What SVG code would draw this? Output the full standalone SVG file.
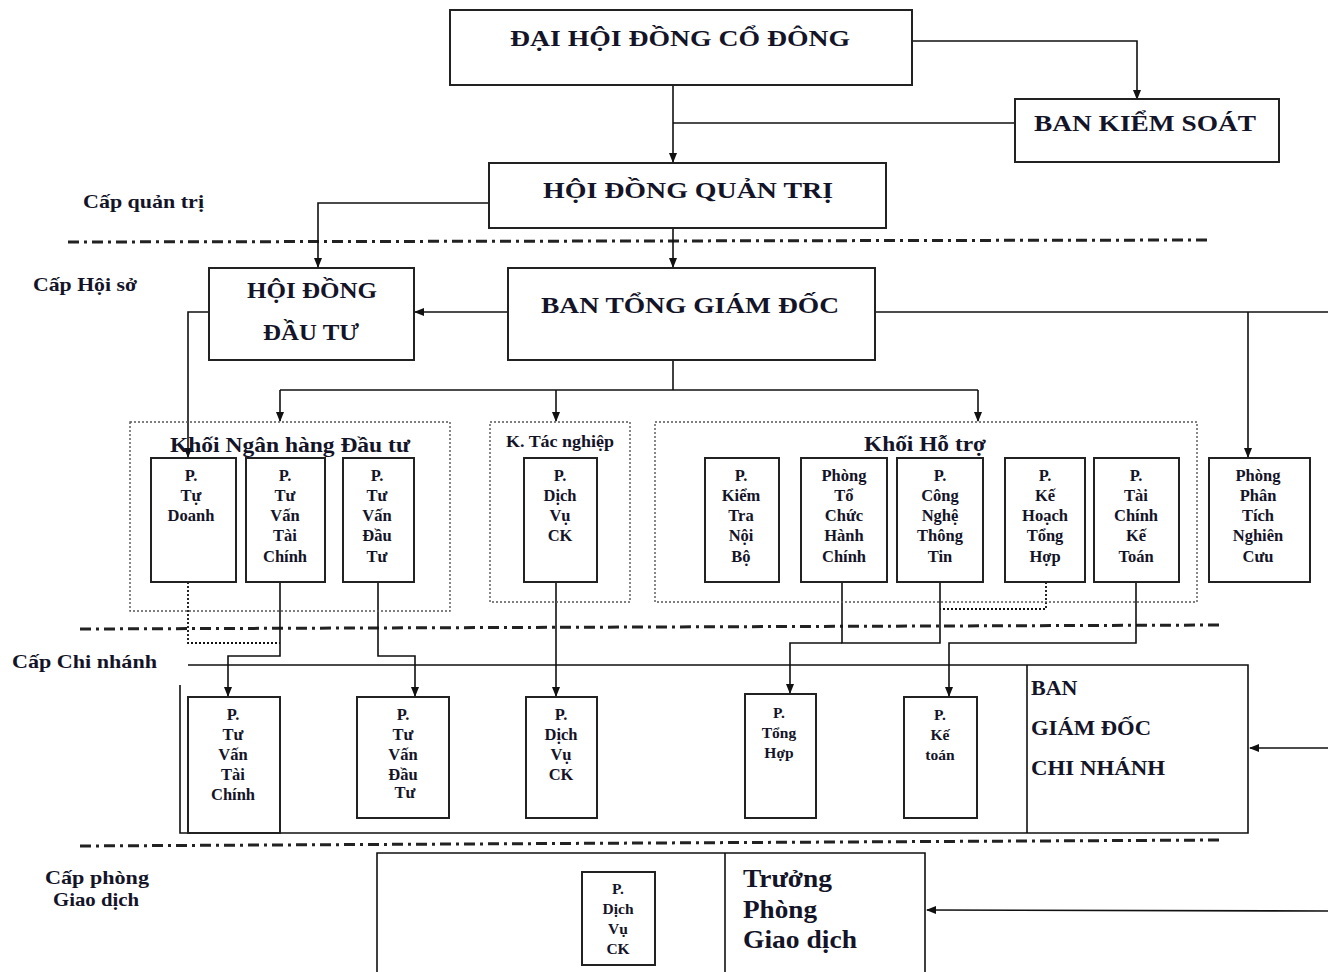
<svg xmlns="http://www.w3.org/2000/svg" width="1328" height="972" viewBox="0 0 1328 972">
<style>
.bx{fill:#fff;stroke:#222;stroke-width:2}
.dot{fill:none;stroke:#555;stroke-width:1.4;stroke-dasharray:2 2}
.ln{fill:none;stroke:#111;stroke-width:1.6}
.dl{fill:none;stroke:#111;stroke-width:1.8;stroke-dasharray:2 2}
.sep{fill:none;stroke:#222;stroke-width:3;stroke-dasharray:11 5 3 5}
text{font-family:"Liberation Serif","Times New Roman",serif;font-weight:bold;fill:#141428}
.t1{font-size:24px}
.t2{font-size:16.5px;text-anchor:middle}
.t3{font-size:15.5px;text-anchor:middle}
.lb{font-size:19px}
.c{text-anchor:middle}
</style>
<defs>
<marker id="ar" markerWidth="10" markerHeight="10" refX="9" refY="5" orient="auto" markerUnits="userSpaceOnUse">
<path d="M0,1 L10,5 L0,9 Z" fill="#111"/>
</marker>
</defs>
<rect width="1328" height="972" fill="#fff"/>

<g id="levels">
<line class="sep" x1="68" y1="242" x2="1210" y2="240"/>
<line class="sep" x1="80" y1="629" x2="1220" y2="625"/>
<line class="sep" x1="80" y1="846" x2="1220" y2="840"/>
<text class="lb" x="83" y="208" textLength="121" lengthAdjust="spacingAndGlyphs">Cấp quản trị</text>
<text class="lb" x="33" y="291" textLength="104" lengthAdjust="spacingAndGlyphs">Cấp Hội sở</text>
<text class="lb" x="12" y="668" textLength="145" lengthAdjust="spacingAndGlyphs">Cấp Chi nhánh</text>
<text class="lb c" x="97" y="884" textLength="104" lengthAdjust="spacingAndGlyphs">Cấp phòng</text>
<text class="lb c" x="96" y="906" textLength="86" lengthAdjust="spacingAndGlyphs">Giao dịch</text>
</g>

<g id="connectors">
<polyline class="ln" points="912,41 1137,41 1137,99" marker-end="url(#ar)"/>
<line class="ln" x1="673" y1="85" x2="673" y2="162" marker-end="url(#ar)"/>
<line class="ln" x1="1015" y1="123" x2="673" y2="123"/>
<polyline class="ln" points="489,203 318,203 318,267" marker-end="url(#ar)"/>
<line class="ln" x1="673" y1="228" x2="673" y2="267" marker-end="url(#ar)"/>
<line class="ln" x1="508" y1="312" x2="415" y2="312" marker-end="url(#ar)"/>
<polyline class="ln" points="209,312 188,312 188,457" marker-end="url(#ar)"/>
<line class="ln" x1="875" y1="312" x2="1328" y2="312"/>
<line class="ln" x1="1248" y1="312" x2="1248" y2="457" marker-end="url(#ar)"/>
<line class="ln" x1="673" y1="360" x2="673" y2="390"/>
<line class="ln" x1="280" y1="390" x2="978" y2="390"/>
<line class="ln" x1="280" y1="390" x2="280" y2="421" marker-end="url(#ar)"/>
<line class="ln" x1="556" y1="390" x2="556" y2="421" marker-end="url(#ar)"/>
<line class="ln" x1="978" y1="390" x2="978" y2="421" marker-end="url(#ar)"/>
<polyline class="dl" points="188,582 188,643 280,643"/>
<polyline class="ln" points="280,582 280,656 228,656 228,696" marker-end="url(#ar)"/>
<polyline class="ln" points="378,582 378,656 415,656 415,696" marker-end="url(#ar)"/>
<line class="ln" x1="556" y1="582" x2="556" y2="696" marker-end="url(#ar)"/>
<polyline class="ln" points="842,582 842,643 940,643 940,582"/>
<polyline class="ln" points="842,643 790,643 790,693" marker-end="url(#ar)"/>
<polyline class="dl" points="1046,582 1046,609 940,609"/>
<polyline class="ln" points="1136,582 1136,643 949,643 949,696" marker-end="url(#ar)"/>
<line class="ln" x1="1328" y1="748" x2="1250" y2="748" marker-end="url(#ar)"/>
<line class="ln" x1="1328" y1="911" x2="927" y2="910" marker-end="url(#ar)"/>
</g>

<g id="dhdcd"><rect class="bx" x="450" y="10" width="462" height="75"/>
<text class="t1 c" x="680" y="46" textLength="340" lengthAdjust="spacingAndGlyphs">ĐẠI HỘI ĐỒNG CỔ ĐÔNG</text></g>
<g id="bks"><rect class="bx" x="1015" y="99" width="264" height="63"/>
<text class="t1 c" x="1145" y="131" textLength="222" lengthAdjust="spacingAndGlyphs">BAN KIỂM SOÁT</text></g>
<g id="hdqt"><rect class="bx" x="489" y="163" width="397" height="65"/>
<text class="t1 c" x="688" y="198" textLength="290" lengthAdjust="spacingAndGlyphs">HỘI ĐỒNG QUẢN TRỊ</text></g>
<g id="hddt"><rect class="bx" x="209" y="268" width="205" height="92"/>
<text class="t1 c" x="312" y="298" textLength="130" lengthAdjust="spacingAndGlyphs">HỘI ĐỒNG</text>
<text class="t1 c" x="311" y="340" textLength="96" lengthAdjust="spacingAndGlyphs">ĐẦU TƯ</text></g>
<g id="btgd"><rect class="bx" x="508" y="268" width="367" height="92"/>
<text class="t1 c" x="690" y="313" textLength="298" lengthAdjust="spacingAndGlyphs">BAN TỔNG GIÁM ĐỐC</text></g>

<g id="khoi-nhdt"><rect class="dot" x="130" y="422" width="320" height="189"/>
<text class="c" x="290" y="452" font-size="22" textLength="240" lengthAdjust="spacingAndGlyphs">Khối Ngân hàng Đầu tư</text></g>
<g id="p-tu-doanh"><rect class="bx" x="151" y="458" width="85" height="124"/>
<text class="t2" x="191" y="481">P.</text><text class="t2" x="191" y="501">Tự</text><text class="t2" x="191" y="521">Doanh</text></g>
<g id="p-tvtc"><rect class="bx" x="246" y="458" width="79" height="124"/>
<text class="t2" x="285" y="481">P.</text><text class="t2" x="285" y="501">Tư</text><text class="t2" x="285" y="521">Vấn</text><text class="t2" x="285" y="541">Tài</text><text class="t2" x="285" y="562">Chính</text></g>
<g id="p-tvdt"><rect class="bx" x="343" y="458" width="71" height="124"/>
<text class="t2" x="377" y="481">P.</text><text class="t2" x="377" y="501">Tư</text><text class="t2" x="377" y="521">Vấn</text><text class="t2" x="377" y="541">Đầu</text><text class="t2" x="377" y="562">Tư</text></g>

<g id="k-tac-nghiep"><rect class="dot" x="490" y="422" width="140" height="180"/>
<text class="c" x="560" y="447" font-size="16" textLength="108" lengthAdjust="spacingAndGlyphs">K. Tác nghiệp</text></g>
<g id="p-dvck"><rect class="bx" x="524" y="458" width="73" height="124"/>
<text class="t2" x="560" y="481">P.</text><text class="t2" x="560" y="501">Dịch</text><text class="t2" x="560" y="521">Vụ</text><text class="t2" x="560" y="541">CK</text></g>

<g id="khoi-ho-tro"><rect class="dot" x="655" y="422" width="542" height="180"/>
<text class="c" x="925" y="451" font-size="22" textLength="122" lengthAdjust="spacingAndGlyphs">Khối Hỗ trợ</text></g>
<g id="p-ktnb"><rect class="bx" x="705" y="458" width="74" height="124"/>
<text class="t2" x="741" y="481">P.</text><text class="t2" x="741" y="501">Kiểm</text><text class="t2" x="741" y="521">Tra</text><text class="t2" x="741" y="541">Nội</text><text class="t2" x="741" y="562">Bộ</text></g>
<g id="p-tchc"><rect class="bx" x="801" y="458" width="86" height="124"/>
<text class="t2" x="844" y="481">Phòng</text><text class="t2" x="844" y="501">Tổ</text><text class="t2" x="844" y="521">Chức</text><text class="t2" x="844" y="541">Hành</text><text class="t2" x="844" y="562">Chính</text></g>
<g id="p-cntt"><rect class="bx" x="897" y="458" width="86" height="124"/>
<text class="t2" x="940" y="481">P.</text><text class="t2" x="940" y="501">Công</text><text class="t2" x="940" y="521">Nghệ</text><text class="t2" x="940" y="541">Thông</text><text class="t2" x="940" y="562">Tin</text></g>
<g id="p-khth"><rect class="bx" x="1005" y="458" width="80" height="124"/>
<text class="t2" x="1045" y="481">P.</text><text class="t2" x="1045" y="501">Kế</text><text class="t2" x="1045" y="521">Hoạch</text><text class="t2" x="1045" y="541">Tổng</text><text class="t2" x="1045" y="562">Hợp</text></g>
<g id="p-tckt"><rect class="bx" x="1094" y="458" width="85" height="124"/>
<text class="t2" x="1136" y="481">P.</text><text class="t2" x="1136" y="501">Tài</text><text class="t2" x="1136" y="521">Chính</text><text class="t2" x="1136" y="541">Kế</text><text class="t2" x="1136" y="562">Toán</text></g>
<g id="p-ptnc"><rect class="bx" x="1209" y="458" width="101" height="124"/>
<text class="t2" x="1258" y="481">Phòng</text><text class="t2" x="1258" y="501">Phân</text><text class="t2" x="1258" y="521">Tích</text><text class="t2" x="1258" y="541">Nghiên</text><text class="t2" x="1258" y="562">Cưu</text></g>

<g id="chi-nhanh">
<polyline class="ln" points="188,665 1248,665 1248,833 180,833 180,685"/>
<line class="ln" x1="1027" y1="665" x2="1027" y2="833"/>
<text x="1031" y="695" font-size="22">BAN</text>
<text x="1031" y="735" font-size="22" textLength="120" lengthAdjust="spacingAndGlyphs">GIÁM ĐỐC</text>
<text x="1031" y="775" font-size="22" textLength="134" lengthAdjust="spacingAndGlyphs">CHI NHÁNH</text>
</g>
<g id="cn-tvtc"><rect class="bx" x="188" y="697" width="92" height="136"/>
<text class="t2" x="233" y="720">P.</text><text class="t2" x="233" y="740">Tư</text><text class="t2" x="233" y="760">Vấn</text><text class="t2" x="233" y="780">Tài</text><text class="t2" x="233" y="800">Chính</text></g>
<g id="cn-tvdt"><rect class="bx" x="357" y="697" width="92" height="121"/>
<text class="t2" x="403" y="720">P.</text><text class="t2" x="403" y="740">Tư</text><text class="t2" x="403" y="760">Vấn</text><text class="t2" x="403" y="780">Đầu</text><text class="t2" x="405" y="798">Tư</text></g>
<g id="cn-dvck"><rect class="bx" x="526" y="697" width="71" height="121"/>
<text class="t2" x="561" y="720">P.</text><text class="t2" x="561" y="740">Dịch</text><text class="t2" x="561" y="760">Vụ</text><text class="t2" x="561" y="780">CK</text></g>
<g id="cn-tonghop"><rect class="bx" x="745" y="694" width="71" height="124"/>
<text class="t3" x="779" y="718">P.</text><text class="t3" x="779" y="738">Tổng</text><text class="t3" x="779" y="758">Hợp</text></g>
<g id="cn-ketoan"><rect class="bx" x="904" y="697" width="73" height="121"/>
<text class="t3" x="940" y="720">P.</text><text class="t3" x="940" y="740">Kế</text><text class="t3" x="940" y="760">toán</text></g>

<g id="phong-gd">
<polyline class="ln" points="377,972 377,853 925,853 925,972"/>
<line class="ln" x1="725" y1="853" x2="725" y2="972"/>
<text x="743" y="887" font-size="26" textLength="89" lengthAdjust="spacingAndGlyphs">Trưởng</text>
<text x="743" y="918" font-size="26" textLength="74" lengthAdjust="spacingAndGlyphs">Phòng</text>
<text x="743" y="948" font-size="26" textLength="114" lengthAdjust="spacingAndGlyphs">Giao dịch</text>
</g>
<g id="gd-dvck"><rect class="bx" x="582" y="872" width="73" height="93"/>
<text class="t3" x="618" y="894">P.</text><text class="t3" x="618" y="914">Dịch</text><text class="t3" x="618" y="934">Vụ</text><text class="t3" x="618" y="954">CK</text></g>
</svg>
